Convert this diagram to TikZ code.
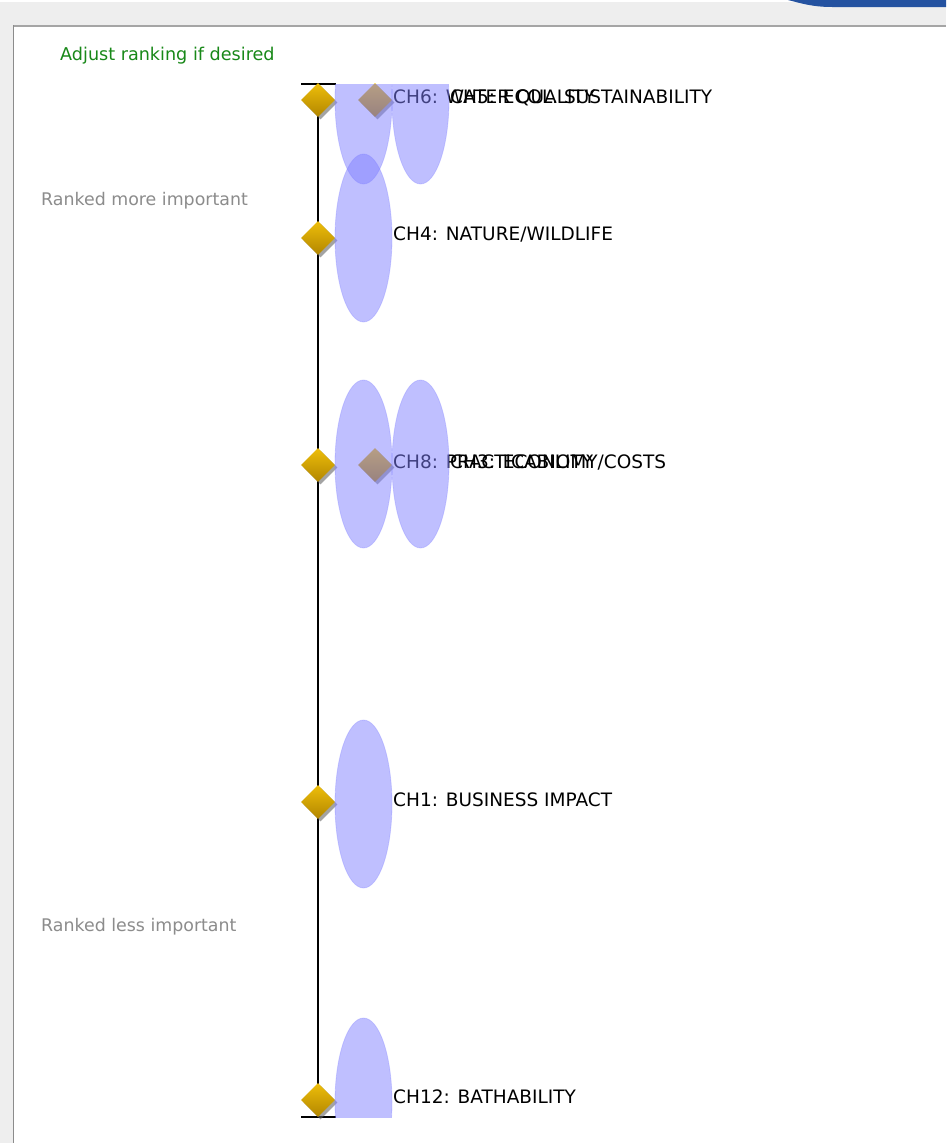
\documentclass[tikz,border=0pt]{standalone}
\usepackage{fontspec}
\setmainfont{DejaVu Sans}
\usetikzlibrary{shapes.geometric}
\definecolor{panelgrey}{RGB}{238,238,238}
\definecolor{framegrey}{RGB}{165,165,165}
\definecolor{barblue}{RGB}{36,82,160}
\definecolor{hintgreen}{RGB}{24,136,24}
\definecolor{hintgrey}{RGB}{140,140,140}
\definecolor{goldtop}{RGB}{238,190,10}
\definecolor{goldbot}{RGB}{178,134,0}
\definecolor{lobe}{RGB}{128,128,255}
\tikzset{
  rank/.style={diamond, minimum width=34pt, minimum height=34pt, inner sep=0pt,
    top color=goldtop, bottom color=goldbot},
  rankshadow/.style={diamond, minimum width=34pt, minimum height=34pt, inner sep=0pt,
    fill=black!60, opacity=0.6},
  crit/.style={anchor=base west, inner sep=0pt, font=\fontsize{18.5}{20}\selectfont},
  hint/.style={anchor=base west, inner sep=0pt, text=hintgrey, font=\fontsize{17.4}{20}\selectfont},
  spread/.style={fill=lobe, fill opacity=0.5, draw=lobe, draw opacity=0.3, line width=0.8pt}
}
\begin{document}
\begin{tikzpicture}[x=1pt,y=-1pt]
  \useasboundingbox (0,0) rectangle (946,1143);
  % window frame
  \fill[panelgrey] (0,0) rectangle (946,1143);
  \fill[white] (0,0) rectangle (800,2);
  \fill[barblue] (788,0) -- (946,0) -- (946,7) -- (832,7) .. controls (812,7) and (800,3) .. (788,0);
  \fill[white] (13,25) rectangle (946,1143);
  \draw[framegrey, line width=2pt] (13,26) -- (946,26);
  \draw[black!45, line width=1pt] (13.5,25) -- (13.5,1143);
  % captions
  \draw
    (60,60) node[anchor=base west, inner sep=0pt, text=hintgreen, font=\fontsize{17.6}{20}\selectfont] (adjust){Adjust ranking if desired}
    (41,205) node[hint] (more){Ranked more important}
    (41,931) node[hint] (less){Ranked less important};
  % ranking axis
  \coordinate (top) at (318,84);
  \coordinate (bot) at (318,1117);
  \coordinate (topl) at (301,84);
  \coordinate (topr) at (336,84);
  \coordinate (botl) at (301,1117);
  \coordinate (botr) at (336,1117);
  \begin{scope}[line width=1.3pt]
    \draw (top) to (bot);
    \draw (topl) to (topr);
    \draw (botl) to (botr);
  \end{scope}
  % markers
  \foreach \x/\y in {318/100,375/100,318/238,318/465,375/465,318/802,318/1100}
    \node[rankshadow] at (\x+2.5,\y+2.5) {};
  \draw
    (318,100) node[rank] (d6){}
    (375,100) node[rank] (d5){}
    (318,238) node[rank] (d4){}
    (318,465) node[rank] (d8){}
    (375,465) node[rank] (d3){}
    (318,802) node[rank] (d1){}
    (318,1100) node[rank] (d12){};
  \draw
    (393,103) node[crit] (c6){CH6: WATER QUALITY}
    (450,103) node[crit] (c5){CH5: ECOL. SUSTAINABILITY}
    (393,240) node[crit] (c4){CH4: NATURE/WILDLIFE}
    (393,468) node[crit] (c8){CH8: PRACTICABILITY}
    (450,468) node[crit] (c3){CH3: ECONOMY/COSTS}
    (393,806) node[crit] (c1){CH1: BUSINESS IMPACT}
    (393,1103) node[crit] (c12){CH12: BATHABILITY};
  % spreads
  \begin{scope}
    \clip (topl) rectangle (946,1117);
    \filldraw[spread] (363.5,100) ellipse [x radius=28.5, y radius=84];
    \filldraw[spread] (420.5,100) ellipse [x radius=28.5, y radius=84];
    \filldraw[spread] (363.5,238) ellipse [x radius=28.5, y radius=84];
    \filldraw[spread] (363.5,464) ellipse [x radius=28.5, y radius=84];
    \filldraw[spread] (420.5,464) ellipse [x radius=28.5, y radius=84];
    \filldraw[spread] (363.5,804) ellipse [x radius=28.5, y radius=84];
    \filldraw[spread] (363.5,1102) ellipse [x radius=28.5, y radius=84];
  \end{scope}
\end{tikzpicture}
\end{document}
